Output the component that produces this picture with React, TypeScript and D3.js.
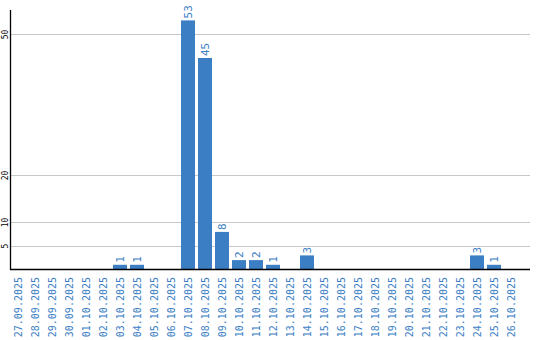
import React from "react";
import * as d3 from "d3";

const dates = [
  "27.09.2025","28.09.2025","29.09.2025","30.09.2025","01.10.2025","02.10.2025",
  "03.10.2025","04.10.2025","05.10.2025","06.10.2025","07.10.2025","08.10.2025",
  "09.10.2025","10.10.2025","11.10.2025","12.10.2025","13.10.2025","14.10.2025",
  "15.10.2025","16.10.2025","17.10.2025","18.10.2025","19.10.2025","20.10.2025",
  "21.10.2025","22.10.2025","23.10.2025","24.10.2025","25.10.2025","26.10.2025",
];
const counts = [0,0,0,0,0,0,1,1,0,0,53,45,8,2,2,1,0,3,0,0,0,0,0,0,0,0,0,3,1,0];
const yTicks = [5, 10, 20, 50];

const W = 540, H = 340;
const BLUE = "#3b7ec4";

export default function App() {
  const x = d3.scaleBand<string>().domain(dates).range([11, 518]).paddingInner(3 / 17).paddingOuter(0);
  const y = d3.scaleLinear().domain([0, 55]).range([269.5, 11]);
  const bw = x.bandwidth();
  return (
    <svg width={W} height={H} style={{ position: "absolute", left: 0, top: 0, background: "#fff" }}>
      {yTicks.map((t) => (
        <g key={t}>
          <line x1={11} x2={530} y1={Math.floor(y(t)) + 0.5} y2={Math.floor(y(t)) + 0.5} stroke="#c8c8c8" strokeWidth={1} />
          <text
            transform={`translate(8,${y(t)}) rotate(-90)`}
            textAnchor="middle"
            fontFamily="DejaVu Sans Mono"
            fontSize={8}
            fill="#000"
          >
            {t}
          </text>
        </g>
      ))}
      {dates.map((d, i) => {
        const v = counts[i];
        const bx = x(d)!;
        return (
          <g key={d}>
            {v > 0 && (
              <>
                <rect x={bx} y={y(v)} width={bw} height={y(0) - y(v)} fill={BLUE} />
                <text
                  transform={`translate(${bx + bw / 2 + 4},${y(v) - 2}) rotate(-90)`}
                  textAnchor="start"
                  fontFamily="DejaVu Sans Mono"
                  fontSize={11}
                  fill={BLUE}
                >
                  {v}
                </text>
              </>
            )}
            <text
              transform={`translate(${bx + bw / 2 + 3.5},277) rotate(-90)`}
              textAnchor="end"
              fontFamily="DejaVu Sans Mono"
              fontSize={10}
              fill={BLUE}
            >
              {d}
            </text>
          </g>
        );
      })}
      <line x1={10.5} x2={10.5} y1={10} y2={270} stroke="#000" strokeWidth={1.3} />
      <line x1={10} x2={530} y1={269.5} y2={269.5} stroke="#000" strokeWidth={1.3} />
    </svg>
  );
}
